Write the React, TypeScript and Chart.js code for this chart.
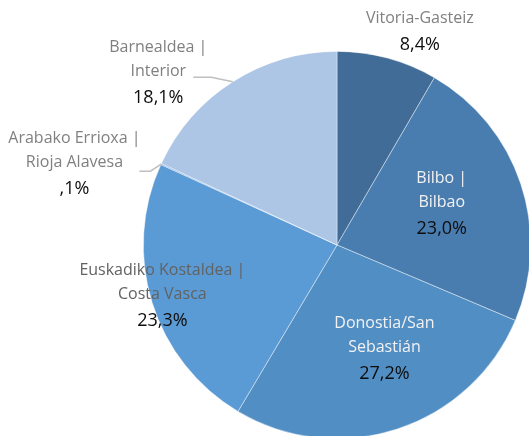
import React, { useEffect, useRef } from "react";
import { Chart, registerables } from "chart.js";

Chart.register(...registerables);

// ---- data ----
const categories: string[][] = [
  ["Vitoria-Gasteiz"],
  ["Bilbo |", "Bilbao"],
  ["Donostia/San", "Sebastián"],
  ["Euskadiko Kostaldea |", "Costa Vasca"],
  ["Arabako Errioxa |", "Rioja Alavesa"],
  ["Barnealdea |", "Interior"],
];
const values = [8.4, 23.0, 27.2, 23.3, 0.1, 18.1];
const valueLabels = ["8,4%", "23,0%", "27,2%", "23,3%", ",1%", "18,1%"];
const sliceColors = ["#416c98", "#4a7daf", "#518ec4", "#5b9bd5", "#7aa8dc", "#adc6e6"];

// ---- label styling (offsets relative to pie centre, in radius units) ----
const labelAnchors = [
  { dx: 0.428, dy: -1.144, catColor: "#808080" },
  { dx: 0.541, dy: -0.32, catColor: "#f2f2f2" },
  { dx: 0.245, dy: 0.428, catColor: "#f2f2f2" },
  { dx: -0.902, dy: 0.155, catColor: "#626262" },
  { dx: -1.356, dy: -0.526, catColor: "#808080" },
  { dx: -0.923, dy: -0.995, catColor: "#808080" },
];
// leader lines: start point offset from the label anchor (px), elbow length (px)
const leaders: Record<number, { sx: number; sy: number; elbow: number }> = {
  4: { sx: 65, sy: 28, elbow: 11 },
  5: { sx: 35, sy: 25, elbow: 18 },
};

const FONT = "'Open Sans', 'Noto Sans', sans-serif";
const CAT_SIZE = 16;
const PCT_SIZE = 18;
const LINE_GAP = 24;
const PCT_GAP = 27;

const labelPlugin = {
  id: "pieLabels",
  afterDatasetsDraw(chart: any) {
    const ctx = chart.ctx as CanvasRenderingContext2D;
    const meta = chart.getDatasetMeta(0);
    ctx.save();
    meta.data.forEach((arc: any, i: number) => {
      const { x, y, outerRadius, startAngle, endAngle } = arc.getProps(
        ["x", "y", "outerRadius", "startAngle", "endAngle"],
        true
      );
      const a = labelAnchors[i];
      const lx = x + a.dx * outerRadius;
      const ly = y + a.dy * outerRadius;
      const lines = categories[i];
      ctx.textAlign = "center";
      ctx.textBaseline = "alphabetic";
      ctx.font = `${CAT_SIZE}px ${FONT}`;
      ctx.fillStyle = a.catColor;
      lines.forEach((t, k) => ctx.fillText(t, lx, ly + k * LINE_GAP));
      ctx.font = `${PCT_SIZE}px ${FONT}`;
      ctx.fillStyle = "#0d0d0d";
      ctx.fillText(valueLabels[i], lx, ly + (lines.length - 1) * LINE_GAP + PCT_GAP);

      const ld = leaders[i];
      if (ld) {
        const mid = (startAngle + endAngle) / 2;
        const ex = x + Math.cos(mid) * outerRadius;
        const ey = y + Math.sin(mid) * outerRadius;
        const sx = lx + ld.sx;
        const sy = ly + ld.sy;
        ctx.beginPath();
        ctx.strokeStyle = "#bfbfbf";
        ctx.lineWidth = 1.5;
        ctx.moveTo(sx, sy);
        ctx.lineTo(sx + ld.elbow, sy);
        ctx.lineTo(ex, ey);
        ctx.stroke();
      }
    });
    ctx.restore();
  },
};

export default function App() {
  const ref = useRef<HTMLCanvasElement | null>(null);
  useEffect(() => {
    document.body.style.margin = "0";
    document.body.style.overflow = "hidden";
    const canvas = ref.current!;
    const chart = new Chart(canvas, {
      type: "pie",
      data: {
        labels: categories.map((c) => c.join(" ")),
        datasets: [
          {
            data: values,
            backgroundColor: sliceColors,
            borderColor: "rgba(255,255,255,0.55)",
            borderWidth: 0.75,
          },
        ],
      },
      options: {
        responsive: false,
        animation: false,
        layout: { padding: { left: 143, top: 51, right: 9, bottom: 11 } },
        plugins: {
          legend: { display: false },
          tooltip: { enabled: false },
          title: { display: false },
        },
      },
      plugins: [labelPlugin],
    });
    return () => chart.destroy();
  }, []);
  return (
    <canvas
      ref={ref}
      width={540}
      height={450}
      style={{ position: "fixed", left: 0, top: 0, width: 540, height: 450 }}
    />
  );
}
